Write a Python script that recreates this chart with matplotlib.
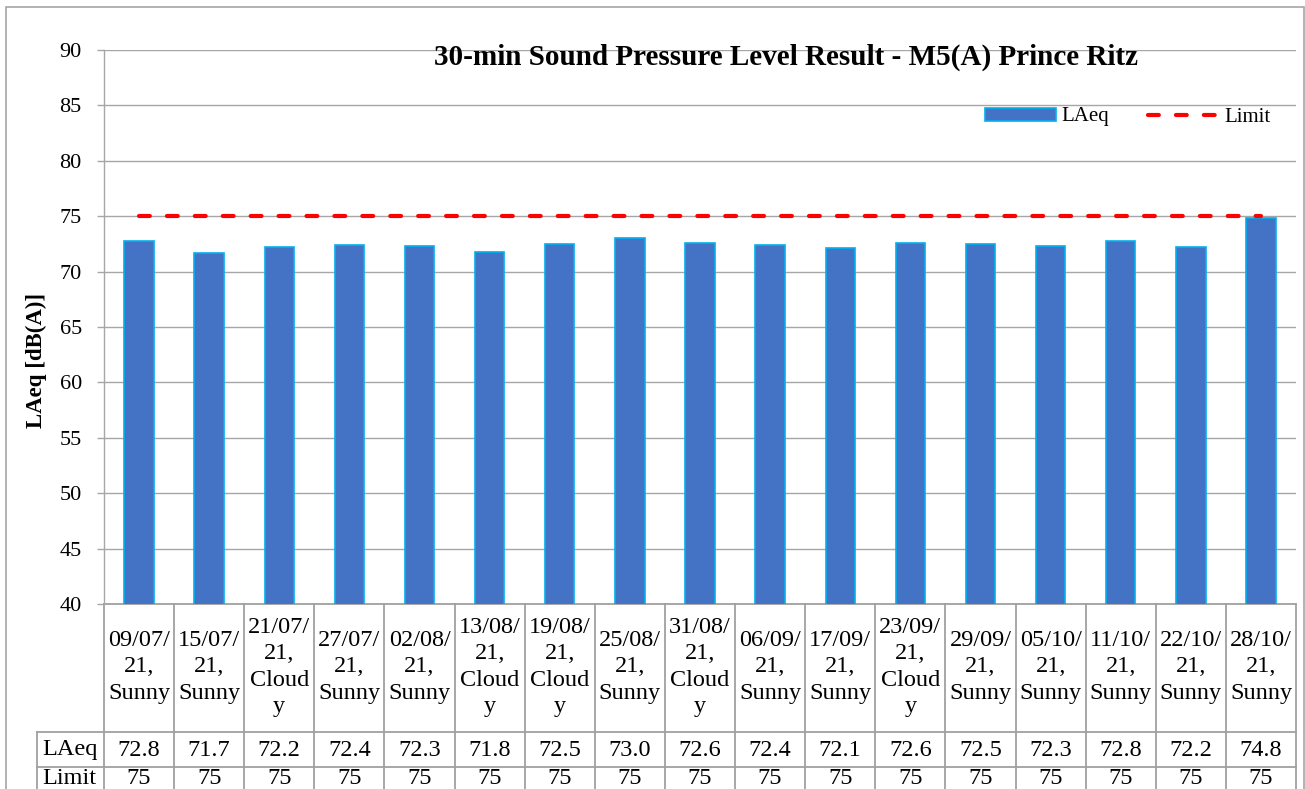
import matplotlib
matplotlib.use('Agg')
import matplotlib.pyplot as plt
from matplotlib.transforms import blended_transform_factory
from matplotlib.lines import Line2D
from matplotlib.patches import Rectangle, Patch

# ---- data ----
dates = ["09/07/21", "15/07/21", "21/07/21", "27/07/21", "02/08/21", "13/08/21",
         "19/08/21", "25/08/21", "31/08/21", "06/09/21", "17/09/21", "23/09/21",
         "29/09/21", "05/10/21", "11/10/21", "22/10/21", "28/10/21"]
weather = ["Sunny", "Sunny", "Cloudy", "Sunny", "Sunny", "Cloudy", "Cloudy", "Sunny",
           "Cloudy", "Sunny", "Sunny", "Cloudy", "Sunny", "Sunny", "Sunny", "Sunny", "Sunny"]
laeq = [72.8, 71.7, 72.2, 72.4, 72.3, 71.8, 72.5, 73.0, 72.6, 72.4, 72.1, 72.6,
        72.5, 72.3, 72.8, 72.2, 74.8]
limit = [75, 75, 75, 75, 75, 75, 75, 75, 75, 75, 75, 75, 75, 75, 75, 75, 75]
yticks = [40, 45, 50, 55, 60, 65, 70, 75, 80, 85, 90]
title = "30-min Sound Pressure Level Result - M5(A) Prince Ritz"
ylabel = "LAeq [dB(A)]"

plt.rcParams['font.family'] = ['Liberation Serif', 'DejaVu Serif']

W, H = 1305, 789
fig = plt.figure(figsize=(W / 100, H / 100), dpi=100)
fig.patch.set_facecolor('white')

def fx(px):
    return px / W

def fy(py):
    return 1 - py / H

ax = fig.add_axes([fx(104), fy(604), fx(1296) - fx(104), fy(50) - fy(604)])

grid_col = '#A6A6A6'
n = len(dates)
x = list(range(n))

ax.bar(x, laeq, width=0.42, color='#4472C4', edgecolor='#00B0F0', linewidth=1.2, zorder=3)
ax.plot(x, limit, color='#FF0000', lw=3, linestyle=(0, (2.6, 4.1)),
        dash_capstyle='round', zorder=4)

ax.set_xlim(-0.5, n - 0.5)
ax.set_ylim(40, 90)
ax.set_yticks(yticks)
ax.yaxis.grid(True, color=grid_col, lw=1.0, zorder=0)
ax.set_axisbelow(True)
ax.set_xticks([])
for s in ['top', 'right', 'bottom']:
    ax.spines[s].set_visible(False)
ax.spines['left'].set_color(grid_col)
ax.spines['left'].set_linewidth(1.0)
ax.tick_params(axis='y', length=5, color=grid_col, width=1.0, labelsize=16, pad=11)
ax.set_ylabel(ylabel, fontsize=16.5, fontweight='bold')
ax.yaxis.set_label_coords((47 - 104) / 1192, (604 - 360) / 554)

# title
fig.text(fx(786), fy(57), title, fontsize=21, fontweight='bold', ha='center', va='center')

# legend
handles = [Patch(facecolor='#4472C4', edgecolor='#00B0F0', linewidth=1.2),
           Line2D([], [], color='#FF0000', lw=3, linestyle=(0, (2.6, 4.1)), dash_capstyle='round')]
leg = fig.legend(handles, ['LAeq', 'Limit'], loc='center left',
                 bbox_to_anchor=(fx(985), fy(117)), bbox_transform=fig.transFigure,
                 ncol=2, frameon=False, fontsize=15, handlelength=3.4, handleheight=0.6,
                 handletextpad=0.25, columnspacing=1.9, borderpad=0, borderaxespad=0)

# ---- data table below axes ----
ah = 554.0
aw = 1192.0
def ay(py):
    return -(py - 604) / ah

y0, y1, y2, y3 = ay(604), ay(732), ay(767), ay(802)
hx = -(104 - 37) / aw
tb = blended_transform_factory(ax.transData, ax.transAxes)
ta = ax.transAxes
tcol = '#A0A0A0'
tlw = 1.3

for i in range(n + 1):
    ax.add_line(Line2D([i - 0.5, i - 0.5], [y3, y0], transform=tb, color=tcol, lw=tlw, clip_on=False))
ax.add_line(Line2D([hx, hx], [y3, y1], transform=ta, color=tcol, lw=tlw, clip_on=False))
ax.add_line(Line2D([0, 1], [y0, y0], transform=ta, color=tcol, lw=tlw, clip_on=False))
for yy in (y1, y2):
    ax.add_line(Line2D([hx, 1], [yy, yy], transform=ta, color=tcol, lw=tlw, clip_on=False))

def cat_label(d, w):
    wl = "Cloud\ny" if w == "Cloudy" else w
    return d[:6] + "\n" + d[6:] + ",\n" + wl

tfs = 17.5
for i in range(n):
    ax.text(i, ay(667), cat_label(dates[i], weather[i]), transform=tb,
            ha='center', va='center', fontsize=tfs, linespacing=1.33, clip_on=False)
    ax.text(i, ay(750), f"{laeq[i]:.1f}", transform=tb,
            ha='center', va='center', fontsize=tfs, clip_on=False)
    ax.text(i, ay(779), f"{limit[i]}", transform=tb,
            ha='center', va='center', fontsize=tfs, clip_on=False)

hxl = -(104 - 42) / aw
ax.text(hxl, ay(750), "LAeq", transform=ta, ha='left', va='center', fontsize=tfs, clip_on=False)
ax.text(hxl, ay(779), "Limit", transform=ta, ha='left', va='center', fontsize=tfs, clip_on=False)

# outer chart border
fig.patches.append(Rectangle((fx(6), -0.05), fx(1304) - fx(6), fy(7) + 0.05,
                             transform=fig.transFigure, fill=False,
                             edgecolor='#A6A6A6', lw=1.2))

fig.savefig('out.png', dpi=100, facecolor='white')
